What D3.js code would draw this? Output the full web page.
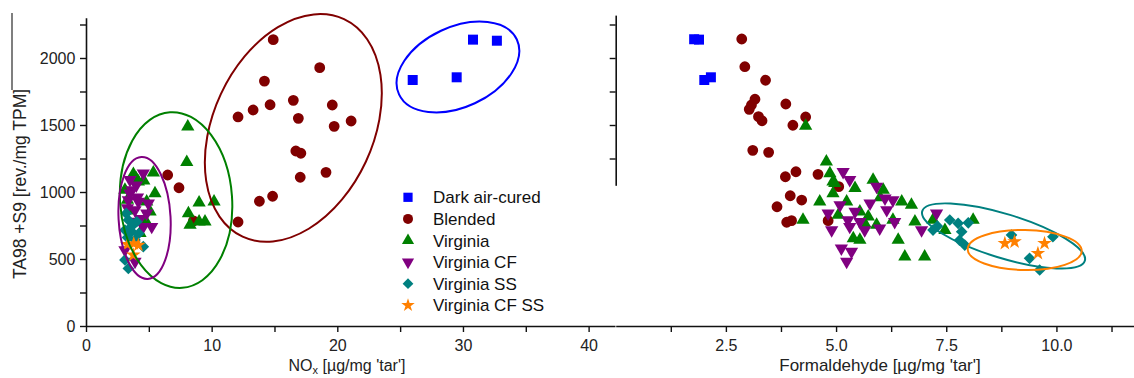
<!DOCTYPE html>
<html><head><meta charset="utf-8">
<script src="https://cdn.jsdelivr.net/npm/d3@7"></script>
<style>
html,body{margin:0;padding:0;background:#fff;}
svg{display:block;font-family:"Liberation Sans",Arial,sans-serif;}
</style></head>
<body>
<svg id="chart" width="1134" height="378"></svg>
<script>
// ---------- DATA ----------
const categories = ["Dark air-cured","Blended","Virginia","Virginia CF","Virginia SS","Virginia CF SS"];
const colors = ["#0000ff","#800000","#008000","#800080","#008080","#ff8000"];
const noxTicks = [0,10,20,30,40];
const formTicks = [2.5,5.0,7.5,10.0];
const yTicks = [0,500,1000,1500,2000];

// [NOx, TA98] pairs (left panel)
const darkNox = [[26.0,1836],[29.5,1856],[30.8,2137],[32.7,2129]];
const blendedNox = [[14.9,2137],[18.6,1928],[14.2,1828],[13.3,1612],[14.65,1651],[12.1,1560],[16.5,1684],[16.9,1550],
  [19.6,1649],[19.75,1490],[21.1,1530],[16.7,1306],[17.1,1289],[17.05,1110],[19.1,1147],[13.8,931],[14.85,968],
  [12.1,776],[6.5,1127],[7.4,1032],[8.55,784]];
const virginiaNox = [[3.1,1015],[3.5,860],[3.77,1134],[4.17,1077],[4.6,1085],[5.36,1144],[5.49,990],[4.83,928],
  [5.1,853],[4.7,791],[4.3,692],[3.3,940],[4.0,1100],[8.1,1487],[8.02,1222],[9.0,920],[10.19,928],[8.15,841],
  [8.28,754],[9.0,778],[9.47,778]];
const virginiaCFNox = [[3.5,1090],[4.56,1139],[3.64,1015],[3.37,940],[4.17,928],[4.96,916],[3.9,866],[4.83,841],
  [5.23,741],[4.56,741],[3.1,567],[3.9,480],[3.5,990],[4.0,1050],[3.3,880],[4.3,800],[3.8,780],[4.1,960]];
const virginiaSSNox = [[3.37,791],[4.04,778],[3.1,716],[3.64,704],[3.9,642],[4.56,592],[3.1,493],[3.37,430],
  [3.2,840],[3.6,740],[3.3,660],[4.2,690]];
const virginiaCFSSNox = [[3.3,610],[4.17,604],[3.77,530],[3.8,615]];

// [Formaldehyde, TA98] pairs (right panel)
const darkForm = [[1.78,2140],[1.89,2137],[2.01,1836],[2.16,1856]];
const blendedForm = [[2.86,2142],[2.93,1935],[3.40,1834],[3.16,1692],[3.08,1649],[3.03,1617],[3.24,1562],[3.32,1532],
  [3.86,1657],[4.31,1560],[4.02,1498],[3.11,1311],[3.47,1296],[3.85,1114],[4.09,1151],[4.59,1132],[3.96,972],
  [4.22,940],[3.66,890],[3.88,774],[3.99,786],[5.06,1040],[4.82,786]];
const virginiaForm = [[4.78,1226],[4.86,1139],[4.97,1065],[4.63,928],[4.93,990],[5.43,1028],[4.25,791],[5.24,928],
  [5.84,1090],[6.07,1015],[5.54,853],[5.65,766],[5.92,754],[6.49,928],[6.71,903],[6.29,791],[6.41,642],[6.56,517],
  [7.01,517],[6.79,778],[7.2,791],[7.47,716],[8.11,791],[5.39,654],[5.54,642],[5.05,828],[5.73,816],[4.31,1493],
  [4.93,1077],[6.0,960]];
const virginiaCFForm = [[5.16,1151],[5.31,1090],[5.92,1040],[6.11,953],[6.29,940],[5.09,903],[4.82,841],[5.43,853],
  [5.27,791],[5.54,778],[4.9,716],[5.31,741],[5.65,716],[5.99,729],[6.33,778],[5.12,580],[5.35,555],[5.24,480],
  [6.94,716],[7.28,841],[5.77,916],[6.15,866]];
const virginiaSSForm = [[7.2,716],[7.3,745],[7.58,791],[7.77,766],[8.0,770],[7.85,704],[7.92,604],[7.8,640],
  [8.98,679],[9.92,666],[9.39,505],[9.62,418]];
const virginiaCFSSForm = [[8.83,617],[9.05,629],[9.73,617],[9.58,542]];

const noxSeries = [darkNox, blendedNox, virginiaNox, virginiaCFNox, virginiaSSNox, virginiaCFSSNox];
const formSeries = [darkForm, blendedForm, virginiaForm, virginiaCFForm, virginiaSSForm, virginiaCFSSForm];

// group ellipses: centre in data units
const noxGroups = [{c:[29.6,1933], s:0},{c:[16.5,1478], s:1},{c:[7.17,940], s:2},{c:[4.66,806], s:3}];
const formGroups = [{c:[8.8,672], s:4},{c:[9.28,567], s:5}];

// ---------- LAYOUT / STYLE ----------
const ellipseStyle = [{rx:65,ry:40,rot:-25},{rx:80,ry:120,rot:25},{rx:56,ry:88,rot:-4},{rx:26,ry:61,rot:-3},
  {rx:85,ry:22,rot:17},{rx:57,ry:20,rot:1}];
const svg = d3.select("#chart");
const y = d3.scaleLinear().domain([0,2300]).range([326,17.8]);
const xL = d3.scaleLinear().domain([0,42.1]).range([86,615]);
const xR = d3.scaleLinear().domain([0,11.76]).range([615.7,1134]);

const shapes = [
  {t:d3.symbolSquare, size:100, rot:0},
  {t:d3.symbolCircle, size:92, rot:0},
  {t:d3.symbolTriangle, size:76, rot:0},
  {t:d3.symbolTriangle, size:76, rot:180},
  {t:d3.symbolSquare, size:68, rot:45},
  {t:d3.symbolStar, size:66, rot:0}
];

function styleAxis(g){
  g.selectAll("path.domain").attr("stroke","#111").attr("stroke-width",1.6);
  g.selectAll(".tick line").attr("stroke","#111").attr("stroke-width",1.4);
  g.selectAll(".tick text").attr("fill","#222").style("font-size","16px").style("font-family","Liberation Sans, Arial, sans-serif");
}

// left x axis
const gxL = svg.append("g").attr("transform","translate(0,326)")
  .call(d3.axisBottom(xL).tickValues(d3.range(0,42,5)).tickSize(6).tickSizeOuter(0)
    .tickFormat(d => noxTicks.includes(d) ? d : ""));
styleAxis(gxL); gxL.selectAll(".tick text").attr("dy","1.0em");
// right x axis
const gxR = svg.append("g").attr("transform","translate(0,326)")
  .call(d3.axisBottom(xR).tickValues(d3.range(1.25,11.76,1.25)).tickSize(6).tickSizeOuter(0)
    .tickFormat(d => formTicks.some(t=>Math.abs(t-d)<1e-6) ? d3.format(".1f")(d) : ""));
styleAxis(gxR); gxR.selectAll(".tick text").attr("dy","1.0em");
// left y axis
const gyL = svg.append("g").attr("transform","translate(86,0)")
  .call(d3.axisLeft(y).tickValues(d3.range(0,2300,250)).tickSize(6).tickSizeOuter(0)
    .tickFormat(d => yTicks.includes(d) ? d : ""));
styleAxis(gyL); gyL.selectAll(".tick text").attr("dx","-0.1em");
// right y axis (partly hidden in original)
const yR = d3.scaleLinear().domain([1050,2320]).range([y(1050),y(2320)]);
const gyR = svg.append("g").attr("transform","translate(615.7,0)")
  .call(d3.axisLeft(yR).tickValues([1250,1500,1750,2000,2250]).tickSize(6).tickSizeOuter(0).tickFormat(""));
styleAxis(gyR);

// axis titles
svg.append("text").attr("x",347).attr("y",371).attr("text-anchor","middle")
  .style("font-size","16px").attr("fill","#222")
  .html("NO<tspan dy='3' font-size='11'>x</tspan><tspan dy='-3'> [µg/mg 'tar']</tspan>");
svg.append("text").attr("x",880).attr("y",371).attr("text-anchor","middle")
  .style("font-size","17px").attr("fill","#222").text("Formaldehyde [µg/mg 'tar']");
svg.append("text").attr("transform","translate(26,184) rotate(-90)").attr("text-anchor","middle")
  .style("font-size","17.5px").attr("fill","#222").text("TA98 +S9 [rev./mg TPM]");
svg.append("line").attr("x1",12).attr("x2",12).attr("y1",13).attr("y2",90).attr("stroke","#555").attr("stroke-width",1.5);

// points
function drawPanel(series, xs){
  series.forEach((pts,i)=>{
    const sh = shapes[i];
    svg.append("g").selectAll("path").data(pts).join("path")
      .attr("d", d3.symbol().type(sh.t).size(sh.size))
      .attr("transform", d=>`translate(${xs(d[0])},${y(d[1])}) rotate(${sh.rot})`)
      .attr("fill", colors[i]);
  });
}
drawPanel(noxSeries, xL);
drawPanel(formSeries, xR);

// group ellipses
function drawEllipses(groups, xs, offset){
  groups.forEach((g,k)=>{
    const st = ellipseStyle[offset+k];
    svg.append("ellipse").attr("cx",0).attr("cy",0).attr("rx",st.rx).attr("ry",st.ry)
      .attr("transform",`translate(${xs(g.c[0])},${y(g.c[1])}) rotate(${st.rot})`)
      .attr("fill","none").attr("stroke",colors[g.s]).attr("stroke-width",2);
  });
}
drawEllipses(noxGroups, xL, 0);
drawEllipses(formGroups, xR, 4);

// legend
const leg = svg.append("g");
categories.forEach((c,i)=>{
  const sh = shapes[i];
  const yy = 197.3 + i*21.6;
  leg.append("path").attr("d", d3.symbol().type(sh.t).size(sh.size*0.85))
    .attr("transform",`translate(408,${yy}) rotate(${sh.rot})`).attr("fill",colors[i]);
  leg.append("text").attr("x",433).attr("y",yy+6).style("font-size","17px").attr("fill","#111").text(c);
});
</script>
</body></html>
